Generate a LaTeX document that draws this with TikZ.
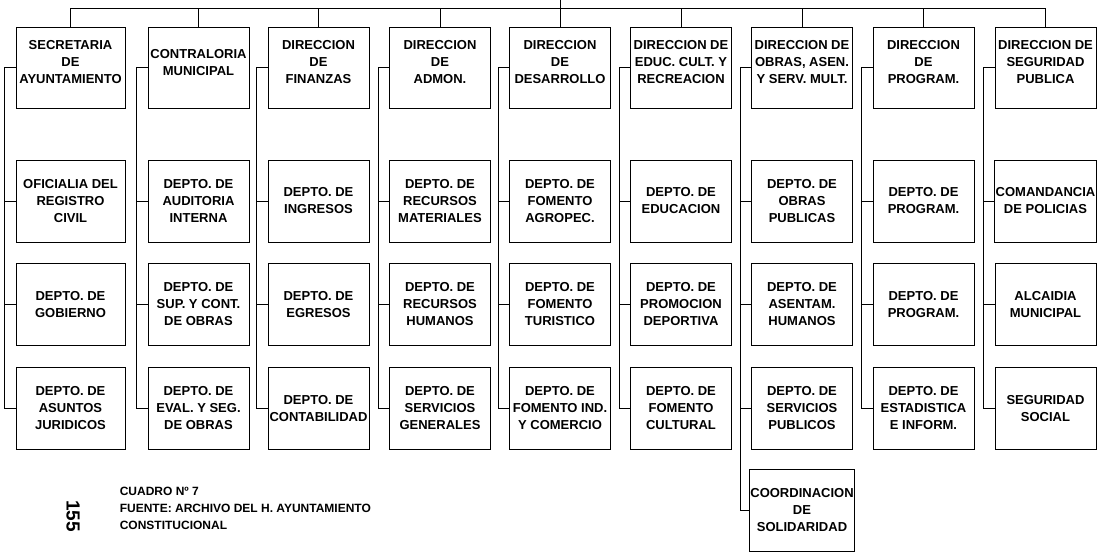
\documentclass[tikz,border=0pt]{standalone}
\usepackage{fontspec}
\setmainfont{Liberation Sans}
\usetikzlibrary{positioning}

\begin{document}
\begin{tikzpicture}[x=1pt,y=-1pt,line width=0.9pt,
    dept/.style={rectangle, draw, minimum width=101pt, minimum height=82pt,
      inner sep=1pt, align=center, font=\bfseries\fontsize{13}{17}\selectfont},
    dir/.style={dept, minimum height=81pt, text depth=11pt},
    foot/.style={font=\bfseries\fontsize{12}{17}\selectfont}]
      \useasboundingbox (0,0) rectangle (1102,554);
      % direcciones
      \node [dir, minimum width=109pt] (sec) at (70.5,67.5) {SECRETARIA\\DE\\AYUNTAMIENTO};
      \node [dir] (con) at (198.5,67.5) {CONTRALORIA\\MUNICIPAL};
      \node [dir] (fin) at (318.5,67.5) {DIRECCION\\DE\\FINANZAS};
      \node [dir] (adm) at (440,67.5) {DIRECCION\\DE\\ADMON.};
      \node [dir] (des) at (560,67.5) {DIRECCION\\DE\\DESARROLLO};
      \node [dir] (edu) at (681,67.5) {DIRECCION DE\\EDUC. CULT. Y\\RECREACION};
      \node [dir] (obr) at (802,67.5) {DIRECCION DE\\OBRAS, ASEN.\\Y SERV. MULT.};
      \node [dir] (pro) at (923.5,67.5) {DIRECCION\\DE\\PROGRAM.};
      \node [dir] (seg) at (1045.5,67.5) {DIRECCION DE\\SEGURIDAD\\PUBLICA};
      % departamentos
      \node [dept, minimum width=109pt] (sec1) at (70.5,201) {OFICIALIA DEL\\REGISTRO\\CIVIL};
      \node [dept, minimum width=109pt] (sec2) at (70.5,304.5) {DEPTO. DE\\GOBIERNO};
      \node [dept, minimum width=109pt] (sec3) at (70.5,408.5) {DEPTO. DE\\ASUNTOS\\JURIDICOS};
      \node [dept] (con1) at (198.5,201) {DEPTO. DE\\AUDITORIA\\INTERNA};
      \node [dept] (con2) at (198.5,304.5) {DEPTO. DE\\SUP. Y CONT.\\DE OBRAS};
      \node [dept] (con3) at (198.5,408.5) {DEPTO. DE\\EVAL. Y SEG.\\DE OBRAS};
      \node [dept] (fin1) at (318.5,201) {DEPTO. DE\\INGRESOS};
      \node [dept] (fin2) at (318.5,304.5) {DEPTO. DE\\EGRESOS};
      \node [dept] (fin3) at (318.5,408.5) {DEPTO. DE\\CONTABILIDAD};
      \node [dept] (adm1) at (440,201) {DEPTO. DE\\RECURSOS\\MATERIALES};
      \node [dept] (adm2) at (440,304.5) {DEPTO. DE\\RECURSOS\\HUMANOS};
      \node [dept] (adm3) at (440,408.5) {DEPTO. DE\\SERVICIOS\\GENERALES};
      \node [dept] (des1) at (560,201) {DEPTO. DE\\FOMENTO\\AGROPEC.};
      \node [dept] (des2) at (560,304.5) {DEPTO. DE\\FOMENTO\\TURISTICO};
      \node [dept] (des3) at (560,408.5) {DEPTO. DE\\FOMENTO IND.\\Y COMERCIO};
      \node [dept] (edu1) at (681,201) {DEPTO. DE\\EDUCACION};
      \node [dept] (edu2) at (681,304.5) {DEPTO. DE\\PROMOCION\\DEPORTIVA};
      \node [dept] (edu3) at (681,408.5) {DEPTO. DE\\FOMENTO\\CULTURAL};
      \node [dept] (obr1) at (802,201) {DEPTO. DE\\OBRAS\\PUBLICAS};
      \node [dept] (obr2) at (802,304.5) {DEPTO. DE\\ASENTAM.\\HUMANOS};
      \node [dept] (obr3) at (802,408.5) {DEPTO. DE\\SERVICIOS\\PUBLICOS};
      \node [dept] (obr4) at (802,510) {COORDINACION\\DE\\SOLIDARIDAD};
      \node [dept] (pro1) at (923.5,201) {DEPTO. DE\\PROGRAM.};
      \node [dept] (pro2) at (923.5,304.5) {DEPTO. DE\\PROGRAM.};
      \node [dept] (pro3) at (923.5,408.5) {DEPTO. DE\\ESTADISTICA\\E INFORM.};
      \node [dept] (seg1) at (1045.5,201) {COMANDANCIA\\DE POLICIAS};
      \node [dept] (seg2) at (1045.5,304.5) {ALCAIDIA\\MUNICIPAL};
      \node [dept] (seg3) at (1045.5,408.5) {SEGURIDAD\\SOCIAL};
      % linea superior
      \coordinate (up) at (560,0);
      \coordinate (bus) at (560,8);
      \draw (up) -- (bus);
      \draw (sec.north |- bus) -- (seg.north |- bus);
      \draw (sec.north |- bus) -- (sec.north);
      \draw (con.north |- bus) -- (con.north);
      \draw (fin.north |- bus) -- (fin.north);
      \draw (adm.north |- bus) -- (adm.north);
      \draw (des.north |- bus) -- (des.north);
      \draw (edu.north |- bus) -- (edu.north);
      \draw (obr.north |- bus) -- (obr.north);
      \draw (pro.north |- bus) -- (pro.north);
      \draw (seg.north |- bus) -- (seg.north);
      % corchetes
      \draw (sec.west) -- ++(-11,0) |- (sec3.west);
      \draw (sec1.west) -- ++(-11,0);
      \draw (sec2.west) -- ++(-11,0);
      \draw (con.west) -- ++(-11,0) |- (con3.west);
      \draw (con1.west) -- ++(-11,0);
      \draw (con2.west) -- ++(-11,0);
      \draw (fin.west) -- ++(-11,0) |- (fin3.west);
      \draw (fin1.west) -- ++(-11,0);
      \draw (fin2.west) -- ++(-11,0);
      \draw (adm.west) -- ++(-11,0) |- (adm3.west);
      \draw (adm1.west) -- ++(-11,0);
      \draw (adm2.west) -- ++(-11,0);
      \draw (des.west) -- ++(-11,0) |- (des3.west);
      \draw (des1.west) -- ++(-11,0);
      \draw (des2.west) -- ++(-11,0);
      \draw (edu.west) -- ++(-11,0) |- (edu3.west);
      \draw (edu1.west) -- ++(-11,0);
      \draw (edu2.west) -- ++(-11,0);
      \draw (obr.west) -- ++(-11,0) |- (obr4.west);
      \draw (obr1.west) -- ++(-11,0);
      \draw (obr2.west) -- ++(-11,0);
      \draw (obr3.west) -- ++(-11,0);
      \draw (pro.west) -- ++(-11,0) |- (pro3.west);
      \draw (pro1.west) -- ++(-11,0);
      \draw (pro2.west) -- ++(-11,0);
      \draw (seg.west) -- ++(-11,0) |- (seg3.west);
      \draw (seg1.west) -- ++(-11,0);
      \draw (seg2.west) -- ++(-11,0);
      % pie
      \node [foot, anchor=west, align=left] (fuente) at (116,508) {CUADRO Nº 7\\FUENTE: ARCHIVO DEL H. AYUNTAMIENTO\\CONSTITUCIONAL};
      \node [rotate=-90, font=\bfseries\fontsize{19}{19}\selectfont] (pagina) at (73,516) {155};
    \end{tikzpicture}
\end{document}
